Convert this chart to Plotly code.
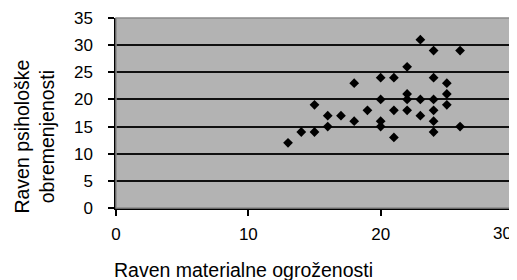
import plotly.graph_objects as go

material = [13, 14, 15, 15, 16, 16, 17, 18, 18, 19, 20, 20, 20, 20, 21, 21, 21,
            22, 22, 22, 22, 23, 23, 23, 24, 24, 24, 24, 24, 24, 25, 25, 25, 26, 26]
psiho = [12, 14, 14, 19, 15, 17, 17, 16, 23, 18, 15, 16, 20, 24, 13, 18, 24,
         18, 20, 21, 26, 17, 20, 31, 14, 16, 18, 20, 24, 29, 19, 21, 23, 15, 29]

x_ticks = [0, 10, 20, 30]
y_ticks = [0, 5, 10, 15, 20, 25, 30, 35]

x_title = "Raven materialne ogroženosti"
y_title = "Raven psihološke<br>obremenjenosti"

font = "Liberation Sans, Arial, sans-serif"
tick_font = dict(family=font, size=17, color="black")
title_font = dict(family=font, size=19.5, color="black")

# the page body has a default 8px margin, so the figure is 8px smaller
fig = go.Figure()
fig.add_trace(go.Scatter(
    x=material, y=psiho, mode="markers",
    marker=dict(symbol="diamond", size=7.5, color="black"),
    showlegend=False,
))

fig.update_layout(
    width=509, height=272,
    margin=dict(l=108, r=4, t=10, b=72),
    paper_bgcolor="white",
    plot_bgcolor="#b3b3b3",
    font=dict(family=font, size=17, color="black"),
    xaxis=dict(
        range=[0, 30], tickvals=x_ticks,
        ticktext=[str(v) for v in x_ticks[:-1]] + [""],
        ticks="outside", ticklen=6, tickwidth=1.5,
        tickcolor="black", showline=True, linecolor="black", linewidth=1.5,
        showgrid=False, zeroline=False, tickfont=tick_font,
        ticklabelstandoff=4, automargin=False,
    ),
    yaxis=dict(
        range=[0, 35], tickvals=y_ticks, ticks="outside", ticklen=6, tickwidth=1.5,
        tickcolor="black", showline=True, linecolor="black", linewidth=1.5,
        showgrid=True, gridcolor="#111111", gridwidth=1.5, zeroline=False,
        tickfont=tick_font, ticklabelstandoff=12, automargin=False,
    ),
)
fig.add_annotation(
    x=x_ticks[-1], xref="x", y=0, yref="paper", text=str(x_ticks[-1]),
    showarrow=False, xanchor="right", yanchor="top", yshift=-14, xshift=1,
    font=tick_font,
)
fig.add_annotation(
    x=0.32, xref="paper", y=-0.326, yref="paper", text=x_title,
    showarrow=False, xanchor="center", yanchor="middle", font=title_font,
)
fig.add_annotation(
    x=-0.205, xref="paper", y=0.374, yref="paper", text=y_title,
    showarrow=False, xanchor="center", yanchor="middle", textangle=-90,
    font=title_font,
)
fig.add_shape(type="rect", xref="paper", yref="paper", x0=0, y0=0, x1=1, y1=1,
              line=dict(color="#8a8a8a", width=1.5), layer="above")

fig.write_html("out.html")
